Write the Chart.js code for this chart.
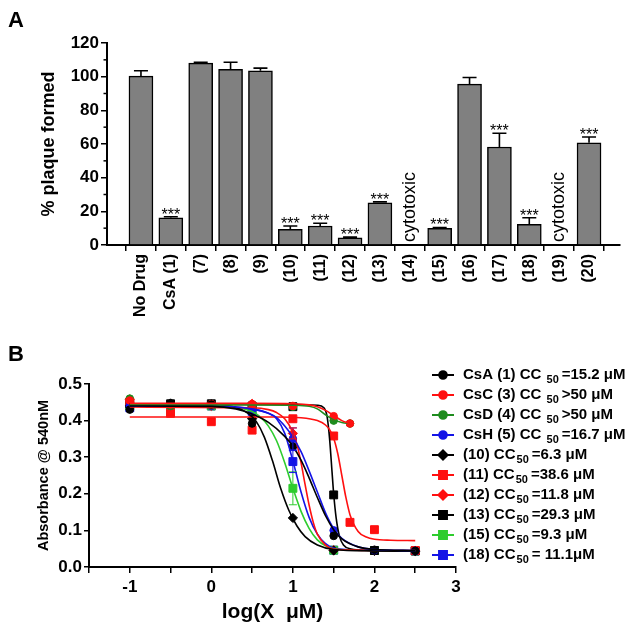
<!DOCTYPE html>
<html>
<head>
<meta charset="utf-8">
<script src="https://cdn.jsdelivr.net/npm/chart.js@4.4.1/dist/chart.umd.min.js"></script>
<style>
  body { margin: 0; background: #fff; }
  #wrap { position: relative; width: 632px; height: 633px; }
  canvas { position: absolute; left: 0; }
  #chartA { top: 0; }
  #chartB { top: 335px; }
</style>
</head>
<body>
<div id="wrap">
  <canvas id="chartA" width="632" height="335"></canvas>
  <canvas id="chartB" width="632" height="298"></canvas>
</div>
<script>
// ---- Panel A data ----
const barLabels = ['No Drug', 'CsA (1)', '(7)', '(8)', '(9)', '(10)', '(11)', '(12)', '(13)', '(14)', '(15)', '(16)', '(17)', '(18)', '(19)', '(20)'];
const barValues = [100.3, 16.2, 108.0, 104.3, 103.5, 9.3, 11.3, 4.2, 25.1, null, 9.9, 95.6, 58.2, 12.3, null, 60.7];
const barErrors = [3.2, 0.6, 0.5, 4.3, 1.6, 2.0, 1.6, 0.5, 0.5, 0, 0.5, 3.9, 8.2, 3.9, 0, 3.5];
const barStars = ['', '***', '', '', '', '***', '***', '***', '***', '', '***', '', '***', '***', '', '***'];
const barNotes = ['', '', '', '', '', '', '', '', '', 'cytotoxic', '', '', '', '', 'cytotoxic', ''];

// ---- Panel B data ----
const concLog = [-1, -0.5, 0, 0.5, 1, 1.5, 1.7, 2, 2.5];
const csA_pts = [0.430, 0.447, 0.444, 0.392, 0.329, 0.085, null, 0.047, 0.044];
const csC_pts = [0.455, 0.444, 0.445, 0.445, 0.440, 0.412, 0.392, null, null];
const csD_pts = [0.460, 0.440, 0.442, 0.443, 0.438, 0.400, 0.392, null, null];
const csH_pts = [0.440, 0.441, 0.440, 0.430, 0.350, 0.100, null, 0.046, 0.044];
const c10_pts = [0.440, 0.447, 0.445, 0.405, 0.134, 0.045, null, 0.044, 0.043];
const c11_pts = [0.451, 0.420, 0.397, 0.374, 0.405, 0.358, 0.122, 0.102, 0.045];
const c12_pts = [0.458, 0.440, 0.440, 0.446, 0.365, 0.046, null, 0.045, 0.044];
const c13_pts = [0.445, 0.446, 0.446, 0.440, 0.438, 0.197, null, 0.045, 0.044];
const c15_pts = [0.440, 0.422, 0.440, 0.432, 0.215, 0.046, null, 0.045, 0.044];
const c18_pts = [0.435, 0.440, 0.440, 0.425, 0.288, 0.046, null, 0.045, 0.044];
// error at log(X)=1 for each compound
const errAtOne = [0, 0, 0, 0.03, 0, 0, 0.015, 0, 0.045, 0.03];

// fitted curves, [log(X), absorbance]
const csA_fit = [[-1,0.440],[0,0.439],[0.3,0.432],[0.5,0.418],[0.7,0.395],[0.9,0.357],[1.0,0.330],[1.1,0.292],[1.2,0.243],[1.3,0.190],[1.4,0.140],[1.5,0.102],[1.6,0.077],[1.8,0.055],[2.0,0.048],[2.5,0.045]];
const csC_fit = [[-1,0.447],[0.5,0.447],[1.0,0.446],[1.2,0.443],[1.3,0.438],[1.4,0.428],[1.5,0.414],[1.6,0.400],[1.7,0.392]];
const csD_fit = [[-1,0.443],[0.5,0.443],[1.0,0.442],[1.2,0.439],[1.3,0.432],[1.4,0.416],[1.5,0.402],[1.6,0.395],[1.7,0.392]];
const csH_fit = [[-1,0.440],[0,0.440],[0.5,0.432],[0.7,0.420],[0.8,0.408],[0.9,0.385],[1.0,0.355],[1.1,0.315],[1.2,0.262],[1.3,0.205],[1.4,0.148],[1.5,0.105],[1.6,0.078],[1.8,0.055],[2.0,0.048],[2.5,0.045]];
const c10_fit = [[-1,0.445],[0,0.443],[0.3,0.436],[0.45,0.420],[0.55,0.398],[0.65,0.355],[0.75,0.290],[0.85,0.215],[0.95,0.155],[1.05,0.112],[1.15,0.083],[1.3,0.060],[1.5,0.048],[2.0,0.044],[2.5,0.043]];
const c11_fit = [[-1,0.410],[0.8,0.410],[1.1,0.408],[1.3,0.400],[1.4,0.388],[1.45,0.375],[1.5,0.352],[1.55,0.310],[1.6,0.250],[1.65,0.190],[1.7,0.143],[1.8,0.097],[1.9,0.082],[2.0,0.076],[2.2,0.073],[2.5,0.072]];
const c12_fit = [[-1,0.437],[0.5,0.435],[0.7,0.430],[0.8,0.422],[0.9,0.405],[1.0,0.368],[1.05,0.335],[1.1,0.285],[1.15,0.225],[1.2,0.168],[1.25,0.122],[1.3,0.090],[1.4,0.060],[1.5,0.049],[2.0,0.045],[2.5,0.045]];
const c13_fit = [[-1,0.445],[1.0,0.444],[1.3,0.442],[1.38,0.435],[1.42,0.410],[1.45,0.350],[1.48,0.260],[1.5,0.200],[1.53,0.135],[1.57,0.085],[1.62,0.060],[1.7,0.050],[2.0,0.045],[2.5,0.044]];
const c15_fit = [[-1,0.443],[0,0.441],[0.3,0.436],[0.5,0.425],[0.6,0.410],[0.7,0.385],[0.8,0.345],[0.9,0.285],[1.0,0.215],[1.1,0.152],[1.2,0.105],[1.3,0.074],[1.4,0.058],[1.5,0.050],[2.0,0.045],[2.5,0.044]];
const c18_fit = [[-1,0.440],[0,0.439],[0.5,0.432],[0.7,0.420],[0.8,0.405],[0.9,0.365],[1.0,0.290],[1.1,0.205],[1.2,0.135],[1.3,0.090],[1.4,0.064],[1.5,0.052],[2.0,0.045],[2.5,0.044]];

const bNames = ['CsA (1) CC ', 'CsC (3) CC ', 'CsD (4) CC ', 'CsH (5) CC ', '(10) CC', '(11) CC', '(12) CC', '(13) CC', '(15) CC', '(18) CC'];
const bCC50 = ['=15.2 μM', '>50 μM', '>50 μM', '=16.7 μM', '=6.3 μM', '=38.6 μM', '=11.8 μM', '=29.3 μM', '=9.3 μM', '= 11.1μM'];
const bColors = ['#000000', '#ff1010', '#1e8c1e', '#1414e6', '#000000', '#ff1010', '#ff1010', '#000000', '#2ecc2e', '#1414e6'];
const bShapes = ['circle', 'circle', 'circle', 'circle', 'rectRot', 'rect', 'rectRot', 'rect', 'rect', 'rect'];
const bRadius = [3.8, 3.8, 3.8, 3.8, 4.6, 5.6, 4.6, 5.6, 5.6, 5.6];

const bPoints = [csA_pts, csC_pts, csD_pts, csH_pts, c10_pts, c11_pts, c12_pts, c13_pts, c15_pts, c18_pts];
const bFits = [csA_fit, csC_fit, csD_fit, csH_fit, c10_fit, c11_fit, c12_fit, c13_fit, c15_fit, c18_fit];

const FONT = "'Liberation Sans', Arial, sans-serif";
Chart.defaults.font.family = FONT;
Chart.defaults.color = '#000';

// error bars (upward only), stars and notes for panel A
const barExtras = {
  id: 'barExtras',
  afterDatasetsDraw(chart) {
    const { ctx, scales: { x, y } } = chart;
    ctx.save();
    ctx.strokeStyle = '#000';
    ctx.lineWidth = 1.6;
    barValues.forEach((v, i) => {
      const px = x.getPixelForValue(i);
      if (v !== null && barErrors[i] > 0) {
        const y0 = y.getPixelForValue(v);
        const y1 = y.getPixelForValue(v + barErrors[i]);
        ctx.beginPath();
        ctx.moveTo(px, y0); ctx.lineTo(px, y1);
        ctx.moveTo(px - 7, y1); ctx.lineTo(px + 7, y1);
        ctx.stroke();
      }
      if (barStars[i]) {
        const yt = y.getPixelForValue(v + barErrors[i]);
        ctx.fillStyle = '#000';
        ctx.font = '16px ' + FONT;
        ctx.textAlign = 'center';
        ctx.textBaseline = 'alphabetic';
        ctx.fillText(barStars[i], px, yt + 3);
      }
      if (barNotes[i]) {
        ctx.save();
        ctx.translate(px, y.getPixelForValue(0) - 3);
        ctx.rotate(-Math.PI / 2);
        ctx.fillStyle = '#000';
        ctx.font = '18px ' + FONT;
        ctx.textAlign = 'left';
        ctx.textBaseline = 'middle';
        ctx.fillText(barNotes[i], 0, 0);
        ctx.restore();
      }
    });
    // minor ticks on y axis
    ctx.lineWidth = 1.5;
    for (let v = 10; v < 120; v += 20) {
      const py = y.getPixelForValue(v);
      ctx.beginPath();
      ctx.moveTo(x.left, py); ctx.lineTo(x.left - 3.5, py);
      ctx.stroke();
    }
    ctx.restore();
  }
};

new Chart(document.getElementById('chartA'), {
  type: 'bar',
  data: {
    datasets: [{
      data: barValues.map((v, i) => ({ x: i, y: v })),
      backgroundColor: '#808080',
      borderColor: '#000',
      borderWidth: 1.5,
      barThickness: 24
    }]
  },
  options: {
    responsive: false,
    animation: false,
    layout: { padding: { left: 8, right: 12, top: 0, bottom: 0 } },
    plugins: {
      legend: { display: false },
      tooltip: { enabled: false },
      title: { display: true, text: 'A', align: 'start', color: '#000', font: { size: 22, weight: 'bold' }, padding: { top: 7.8, bottom: 8.8 } }
    },
    scales: {
      x: {
        type: 'linear', min: -0.6, max: 15.5,
        afterBuildTicks: s => { s.ticks = barLabels.map((_, i) => ({ value: i })); },
        afterFit: s => { s.height = 90; },
        ticks: { autoSkip: false, minRotation: 90, maxRotation: 90, padding: 3, font: { size: 16, weight: 'bold' }, callback: v => barLabels[v] },
        grid: { drawOnChartArea: false, tickLength: 6, color: '#000', lineWidth: 1.5 },
        border: { color: '#000', width: 2 }
      },
      y: {
        min: 0, max: 120,
        afterFit: s => { s.width = 99; },
        ticks: { stepSize: 20, padding: 2, font: { size: 17, weight: 'bold' } },
        grid: { drawOnChartArea: false, tickLength: 6, color: '#000', lineWidth: 1.5 },
        border: { color: '#000', width: 2 },
        title: { display: true, text: '% plaque formed', font: { size: 18, weight: 'bold' }, padding: { top: 30, bottom: 0 } }
      }
    }
  },
  plugins: [barExtras]
});

// panel B: error bars and the legend with subscripts
const errorBarsB = {
  id: 'errorBarsB',
  afterDatasetsDraw(chart) {
    const { ctx, scales: { x, y } } = chart;
    ctx.save();
    ctx.lineWidth = 1;
    errAtOne.forEach((e, i) => {
      if (!e) return;
      const v = bPoints[i][concLog.indexOf(1)];
      const px = x.getPixelForValue(1);
      const y1 = y.getPixelForValue(v + e), y2 = y.getPixelForValue(v - e);
      ctx.strokeStyle = bColors[i];
      ctx.beginPath();
      ctx.moveTo(px, y1); ctx.lineTo(px, y2);
      ctx.moveTo(px - 4, y1); ctx.lineTo(px + 4, y1);
      ctx.moveTo(px - 4, y2); ctx.lineTo(px + 4, y2);
      ctx.stroke();
    });
    ctx.restore();
  }
};

const legendB = {
  id: 'legendB',
  afterDraw(chart) {
    const ctx = chart.ctx;
    ctx.save();
    bNames.forEach((name, i) => {
      const y = 40 + i * 20;
      ctx.strokeStyle = bColors[i];
      ctx.fillStyle = bColors[i];
      ctx.lineWidth = 2;
      ctx.beginPath(); ctx.moveTo(432, y); ctx.lineTo(454, y); ctx.stroke();
      Chart.helpers.drawPoint(ctx, { pointStyle: bShapes[i], radius: bRadius[i], borderWidth: 1, rotation: 0 }, 443, y);
      ctx.fillStyle = '#000';
      ctx.textAlign = 'left';
      ctx.textBaseline = 'middle';
      let x = 463;
      ctx.font = 'bold 15px ' + FONT;
      ctx.fillText(name, x, y);
      x += ctx.measureText(name).width + 1;
      ctx.font = 'bold 11px ' + FONT;
      ctx.fillText('50', x, y + 5);
      x += ctx.measureText('50').width + 3;
      ctx.font = 'bold 15px ' + FONT;
      ctx.fillText(bCC50[i], x, y);
    });
    ctx.restore();
  }
};

const fitSets = bFits.map((fit, i) => ({
  type: 'line',
  data: fit.map(([x, y]) => ({ x, y })),
  borderColor: bColors[i],
  borderWidth: 1.6,
  pointRadius: 0,
  cubicInterpolationMode: 'monotone',
  fill: false
}));
const pointSets = bPoints.map((pts, i) => ({
  type: 'line',
  showLine: false,
  data: concLog.map((x, j) => ({ x, y: pts[j] })).filter(p => p.y !== null),
  pointStyle: bShapes[i],
  pointRadius: bRadius[i],
  pointBackgroundColor: bColors[i],
  pointBorderColor: bColors[i],
  pointBorderWidth: 1
}));

new Chart(document.getElementById('chartB'), {
  type: 'line',
  data: { datasets: fitSets.concat(pointSets) },
  options: {
    responsive: false,
    animation: false,
    layout: { padding: { left: 8, right: 176, top: 0, bottom: 0 } },
    plugins: {
      legend: { display: false },
      tooltip: { enabled: false },
      title: { display: true, text: 'B', align: 'start', color: '#000', font: { size: 22, weight: 'bold' }, padding: { top: 6.8, bottom: 15.8 } }
    },
    scales: {
      x: {
        type: 'linear', min: -1.5, max: 3,
        afterFit: s => { s.height = 66; },
        ticks: { stepSize: 0.5, padding: 4, maxRotation: 0, font: { size: 17, weight: 'bold' }, callback: v => Number.isInteger(v) && v > -1.5 ? String(v) : '' },
        grid: { drawOnChartArea: false, tickLength: 6, color: '#000', lineWidth: 1.5 },
        border: { color: '#000', width: 2 },
        title: { display: true, text: 'log(X  μM)', font: { size: 21, weight: 'bold' }, padding: { top: 0, bottom: 8 } }
      },
      y: {
        min: 0, max: 0.5,
        afterFit: s => { s.width = 81; },
        ticks: { stepSize: 0.1, padding: 2, font: { size: 17, weight: 'bold' }, callback: v => v.toFixed(1) },
        grid: { drawOnChartArea: false, tickLength: 5, color: '#000', lineWidth: 1.5 },
        border: { color: '#000', width: 2 },
        title: { display: true, text: 'Absorbance @ 540nM', font: { size: 14.5, weight: 'bold' }, padding: { top: 27, bottom: 0 } }
      }
    }
  },
  plugins: [errorBarsB, legendB]
});
</script>
</body>
</html>
